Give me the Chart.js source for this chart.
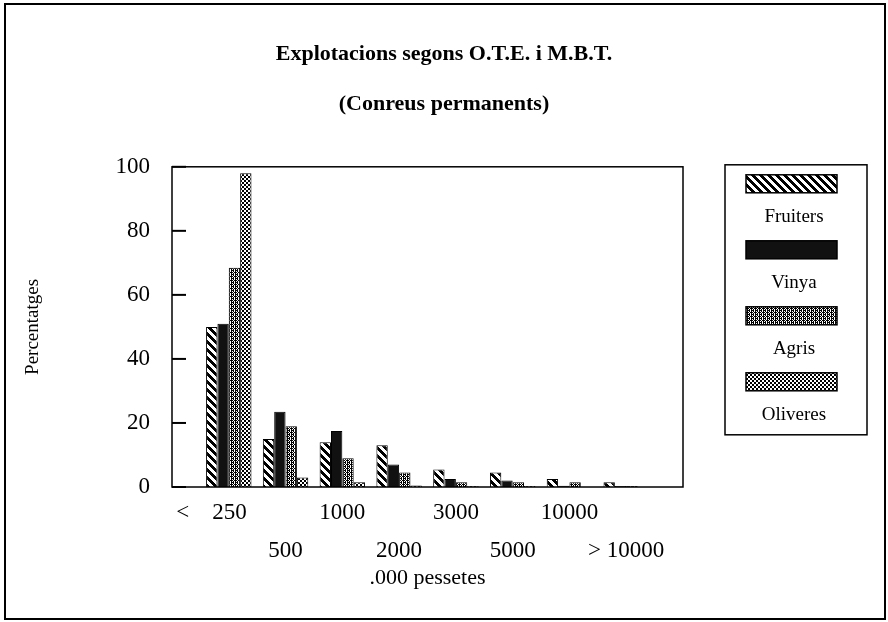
<!DOCTYPE html>
<html lang="ca">
<head>
<meta charset="UTF-8">
<title>Explotacions segons O.T.E. i M.B.T.</title>
<script src="https://cdn.jsdelivr.net/npm/chart.js"></script>
<style>
  html, body { margin: 0; padding: 0; background: #fff; }
  #wrap { width: 888px; height: 622px; }
</style>
</head>
<body>
<div id="wrap"><canvas id="myChart"></canvas></div>
<script>
// trams de M.B.T. (milers de pessetes)
const trams = ["< 250", "500", "1000", "2000", "3000", "5000", "10000", "> 10000"];
// percentatges per O.T.E.
const fruiters = [50, 15, 14, 13, 5.5, 4.5, 2.5, 1.5];
const vinya = [51, 23.5, 17.5, 7, 2.5, 2, 0.4, 0.3];
const agris = [68.5, 19, 9, 4.5, 1.5, 1.5, 1.5, 0.3];
const oliveres = [98, 3, 1.5, 0.5, 0.3, 0.3, 0, 0];
const yTicks = [0, 20, 40, 60, 80, 100];

const serif = "'Liberation Serif', 'Times New Roman', serif";

// trames en blanc i negre
function trama(mask) {
  const c = document.createElement("canvas");
  c.width = mask[0].length;
  c.height = mask.length;
  const g = c.getContext("2d");
  g.fillStyle = "#fff";
  g.fillRect(0, 0, c.width, c.height);
  g.fillStyle = "#000";
  mask.forEach((row, y) => {
    [...row].forEach((ch, x) => { if (ch === "#") g.fillRect(x, y, 1, 1); });
  });
  return g.createPattern(c, "repeat");
}

const ratlles = trama([
  "####....",
  ".####...",
  "..####..",
  "...####.",
  "....####",
  "#....###",
  "##....##",
  "###....#"
]);
const puntsFins = trama([
  "#.##",
  ".#.#",
  "##.#",
  ".#.#"
]);
const puntsGrossos = trama([
  "##..",
  "##..",
  "..##",
  "..##"
]);

const etiquetes = ["", ...trams, ""]; // extrems buits
const omple = arr => [null, ...arr, null];

const data = {
  labels: etiquetes,
  datasets: [
    { label: "Fruiters", data: omple(fruiters), backgroundColor: ratlles },
    { label: "Vinya", data: omple(vinya), backgroundColor: "#111" },
    { label: "Agris", data: omple(agris), backgroundColor: puntsFins },
    { label: "Oliveres", data: omple(oliveres), backgroundColor: puntsGrossos }
  ]
};

// fons, marcs, marques interiors i llegenda
const marc = {
  id: "marc",
  beforeDraw(chart) {
    const ctx = chart.ctx;
    ctx.save();
    ctx.fillStyle = "#fff";
    ctx.fillRect(0, 0, chart.width, chart.height);
    ctx.restore();
  },
  afterDraw(chart) {
    const { ctx, chartArea: a, scales } = chart;
    ctx.save();
    ctx.strokeStyle = "#000";
    ctx.lineWidth = 2;
    ctx.strokeRect(5, 4, chart.width - 8, chart.height - 7);
    ctx.lineWidth = 1.5;
    ctx.strokeRect(a.left, a.top, a.right - a.left, a.bottom - a.top);
    ctx.lineWidth = 2;
    yTicks.forEach(v => {
      const y = scales.y.getPixelForValue(v);
      ctx.beginPath();
      ctx.moveTo(a.left, y);
      ctx.lineTo(a.left + 14, y);
      ctx.stroke();
    });

    const bx = a.right + 42, by = a.top - 2;
    ctx.lineWidth = 1.5;
    ctx.strokeRect(bx, by, 142, 270);
    ctx.font = "19px " + serif;
    ctx.textAlign = "center";
    ctx.textBaseline = "middle";
    chart.data.datasets.forEach((ds, i) => {
      const sy = by + 10 + i * 66;
      ctx.fillStyle = ds.backgroundColor;
      ctx.fillRect(bx + 21, sy, 91, 18);
      ctx.lineWidth = 1.5;
      ctx.strokeRect(bx + 21, sy, 91, 18);
      ctx.fillStyle = "#000";
      ctx.fillText(ds.label, bx + 69, sy + 42);
    });
    ctx.restore();
  }
};

const config = {
  type: "bar",
  data: data,
  options: {
    responsive: true,
    maintainAspectRatio: false,
    animation: false,
    layout: { padding: { left: 0, right: 0, top: 0, bottom: 31 } },
    datasets: {
      bar: { borderColor: "#000", borderWidth: 1, categoryPercentage: 0.8, barPercentage: 1 }
    },
    plugins: {
      legend: { display: false },
      tooltip: { enabled: false },
      title: {
        display: true,
        text: "Explotacions segons O.T.E. i M.B.T.",
        color: "#000",
        font: { family: serif, size: 22, weight: "bold" },
        padding: { top: 41, bottom: 23 }
      },
      subtitle: {
        display: true,
        text: "(Conreus permanents)",
        color: "#000",
        font: { family: serif, size: 22, weight: "bold" },
        padding: { top: 1, bottom: 49 }
      }
    },
    scales: {
      x: {
        offset: false,
        grid: { display: false, offset: false, drawTicks: false },
        border: { display: false },
        ticks: {
          autoSkip: false,
          maxRotation: 0,
          padding: 7,
          color: "#000",
          font: { family: serif, size: 23, lineHeight: 1.65 },
          callback: (v, i) => {
            let t = etiquetes[i];
            if (!t) return "";
            // el signe "<" queda separat, com a l'original
            if (t.startsWith("<")) t = t.replace(" ", "    ") + "      ";
            return i % 2 === 1 ? [t, ""] : ["", t];
          }
        },
        title: {
          display: true,
          text: ".000 pessetes",
          color: "#000",
          font: { family: serif, size: 22 },
          padding: 0
        },
        afterFit: s => { s.height = 104; }
      },
      y: {
        min: 0,
        max: 100,
        afterBuildTicks: s => { s.ticks = yTicks.map(v => ({ value: v })); },
        grid: { display: false, drawTicks: false },
        border: { display: false },
        ticks: { color: "#000", padding: 22, font: { family: serif, size: 23 } },
        title: {
          display: true,
          text: "Percentatges",
          color: "#000",
          font: { family: serif, size: 19 },
          padding: { top: 22, bottom: 0 }
        },
        afterFit: s => { s.width = 172; }
      },
      // espai per a la llegenda
      leg: {
        type: "linear",
        position: "right",
        display: true,
        grid: { display: false, drawTicks: false },
        border: { display: false },
        ticks: { display: false },
        afterFit: s => { s.width = 205; }
      }
    }
  },
  plugins: [marc]
};

const myChart = new Chart(document.getElementById("myChart"), config);
</script>
</body>
</html>
